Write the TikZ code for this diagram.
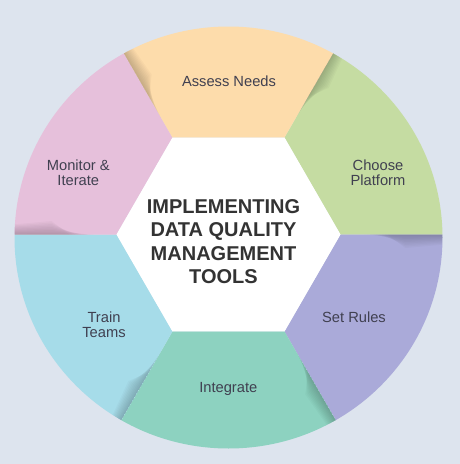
\documentclass[tikz,border=0pt]{standalone}
\usepackage{fontspec}
\setmainfont{Liberation Sans}
\usetikzlibrary{calc}
\definecolor{bg}{HTML}{DDE4EE}
\definecolor{cAssess}{HTML}{FDDCAB}
\definecolor{cChoose}{HTML}{C5DCA2}
\definecolor{cRules}{HTML}{AAAAD9}
\definecolor{cInteg}{HTML}{8DD2C0}
\definecolor{cTrain}{HTML}{A6DCE9}
\definecolor{cMonit}{HTML}{E6C0DB}
\definecolor{labeltext}{HTML}{404050}
\definecolor{titletext}{HTML}{333333}
\newcommand\segpath[1]{($(O)+(#1:112)$) -- ($(O)+(#1:112)+(#1:320)$) -- ($(O)+(#1+60:112)+(#1+60:320)$) -- ($(O)+(#1+60:112)$) -- cycle}
\newcommand\shadowat[1]{%
  \begin{scope}
    \clip \segpath{#1};
    \foreach \w in {1.5,3,4.5,6,7.5,9,10.5,12,13.5}{
      \fill[black,opacity=0.022] ($(O)+(#1:112)+(#1:20+2*\w)$) -- ($(O)+(#1:112)+(#1:65)+(#1+90:\w)$) -- ($(O)+(#1:112)+(#1:95)+(#1+90:0.8*\w)$) -- ($(O)+(#1:112)+(#1:150)+(#1+90:0.5*\w)$) -- ($(O)+(#1:112)+(#1:150)$) -- cycle;
    }
  \end{scope}}
\tikzset{
  seglabel/.style={font=\fontsize{14.7}{15}\selectfont, text=labeltext, align=center, inner sep=0pt},
  titlelabel/.style={font=\fontsize{20}{23.3}\selectfont\bfseries, text=titletext, align=center, inner sep=0pt}
}
\begin{document}
\begin{tikzpicture}[x=1pt,y=-1pt]
\fill[bg] (0,0) rectangle (460,464);
\useasboundingbox (0,0) rectangle (460,464);
\coordinate (O) at (228.5,234.5);
\coordinate (C) at (228.5,237.5);
\begin{scope}
  \clip (C) ellipse [x radius=214, y radius=211];
  \fill[cChoose] \segpath{300};
  \fill[cRules]  \segpath{0};
  \fill[cInteg]  \segpath{60};
  \fill[cTrain]  \segpath{120};
  \fill[cMonit]  \segpath{180};
  \fill[cAssess] \segpath{240};
  \shadowat{0}
  \shadowat{60}
  \shadowat{120}
  \shadowat{180}
  \shadowat{240}
  \shadowat{300}
\end{scope}
\fill[white] ($(O)+(0:112)$) -- ($(O)+(60:112)$) -- ($(O)+(120:112)$) -- ($(O)+(180:112)$) -- ($(O)+(240:112)$) -- ($(O)+(300:112)$) -- cycle;
\node[titlelabel] (title) at (223.5,241.5) {IMPLEMENTING\\DATA QUALITY\\MANAGEMENT\\TOOLS};
\node[seglabel] (assess) at (229,81.5) {Assess Needs};
\node[seglabel] (choose) at (378,172.5) {Choose\\Platform};
\node[seglabel] (rules) at (354,317) {Set Rules};
\node[seglabel] (integ) at (228.3,388.5) {Integrate};
\node[seglabel] (train) at (104,325) {Train\\Teams};
\node[seglabel] (monit) at (78.3,173) {Monitor \&\\Iterate};
\end{tikzpicture}
\end{document}
